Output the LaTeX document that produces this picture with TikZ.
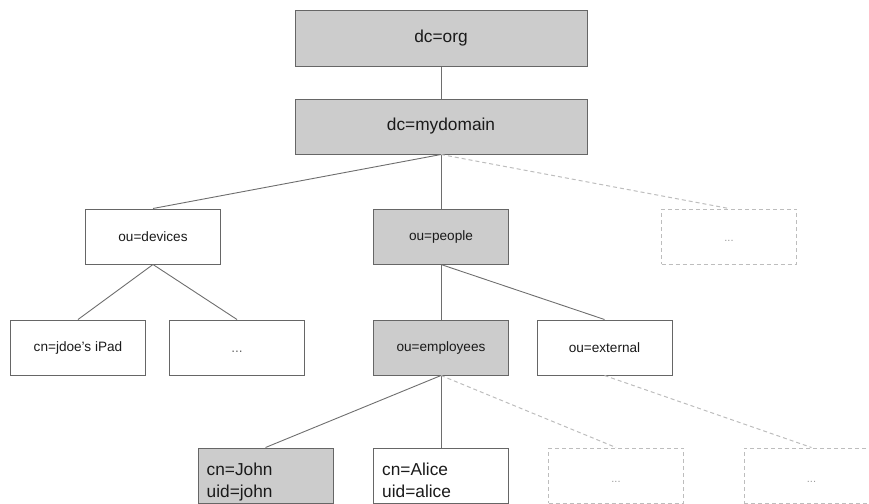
\documentclass[tikz,border=0pt]{standalone}
\usepackage{fontspec}
\setmainfont{Liberation Sans}
\definecolor{boxfill}{HTML}{CCCCCC}
\definecolor{boxline}{HTML}{666666}
\definecolor{linkline}{HTML}{6E6E6E}
\definecolor{ghostline}{HTML}{BDBDBD}
\definecolor{ghosttext}{HTML}{9A9A9A}
\definecolor{inktext}{HTML}{1A1A1A}
\newcommand{\bigtxt}{\fontsize{17.3}{22.5}\selectfont}
\newcommand{\smalltxt}{\fontsize{13.6}{16}\selectfont}
\begin{document}
\begin{tikzpicture}[x=1pt,y=-1pt,
  entry/.style={draw=boxline,line width=1pt,inner sep=0pt,
    minimum width=135pt,minimum height=55pt,text=inktext,font=\smalltxt},
  filled/.style={entry,fill=boxfill},
  wide/.style={minimum width=292pt,font=\bigtxt},
  person/.style={anchor=north west,align=left,inner sep=0pt,text=inktext,font=\bigtxt},
  ghost/.style={draw=ghostline,dashed,dash pattern=on 4pt off 3pt,line width=1pt,
    inner sep=0pt,minimum width=135pt,minimum height=55pt},
  dots/.style={text=ghosttext,font=\fontsize{11}{13}\selectfont,inner sep=0pt},
  link/.style={draw=linkline,line width=0.9pt},
  ghostlink/.style={draw=ghostline,line width=1pt,dash pattern=on 4pt off 3pt}]
\clip (0,0) rectangle (869,503);
\useasboundingbox (0,0) rectangle (869,503);
% root of the directory tree
\node[filled,wide] (org) at (441,38.5) {dc=org};
\node[filled,wide] (dom) at (441,126.5) {dc=mydomain};
% organisational units
\node[entry]  (dev)  at (153,236.5) {ou=devices};
\node[filled] (ppl)  at (441,236.5) {ou=people};
\node[ghost]  (moreA) at (729,236.5) {};
\node[dots] at ([yshift=-4pt]moreA.center) {...};
% third level
\node[entry]  (ipad) at (78,347.5) {cn=jdoe’s iPad};
\node[entry]  (devmore) at (237,347.5) {};
\node[dots,text=boxline,font=\smalltxt] at ([yshift=-4pt]devmore.center) {...};
\node[filled] (emp)  at (441,347.5) {ou=employees};
\node[entry]  (ext)  at (604.5,347.5) {ou=external};
% individual entries
\node[filled] (john)  at (265.5,475.5) {};
\node[person] at ([xshift=9pt,yshift=-15pt]john.north west) {cn=John\\uid=john};
\node[entry]  (alice) at (441,475.5) {};
\node[person] at ([xshift=9pt,yshift=-15pt]alice.north west) {cn=Alice\\uid=alice};
\node[ghost]  (moreB) at (616,475.5) {};
\node[dots] at ([yshift=-6pt]moreB.center) {...};
\node[ghost]  (moreC) at (811.5,475.5) {};
\node[dots] at ([yshift=-6pt]moreC.center) {...};
% connectors
\draw[link] (org.south) -- (dom.north);
\draw[link] (dom.south) -- (dev.north);
\draw[link] (dom.south) -- (ppl.north);
\draw[ghostlink] (dom.south) -- (moreA.north);
\draw[link] (dev.south) -- (ipad.north);
\draw[link] (dev.south) -- (devmore.north);
\draw[link] (ppl.south) -- (emp.north);
\draw[link] (ppl.south) -- (ext.north);
\draw[link] (emp.south) -- (john.north);
\draw[link] (emp.south) -- (alice.north);
\draw[ghostlink] (emp.south) -- (moreB.north);
\draw[ghostlink] (ext.south) -- (moreC.north);
\end{tikzpicture}
\end{document}
